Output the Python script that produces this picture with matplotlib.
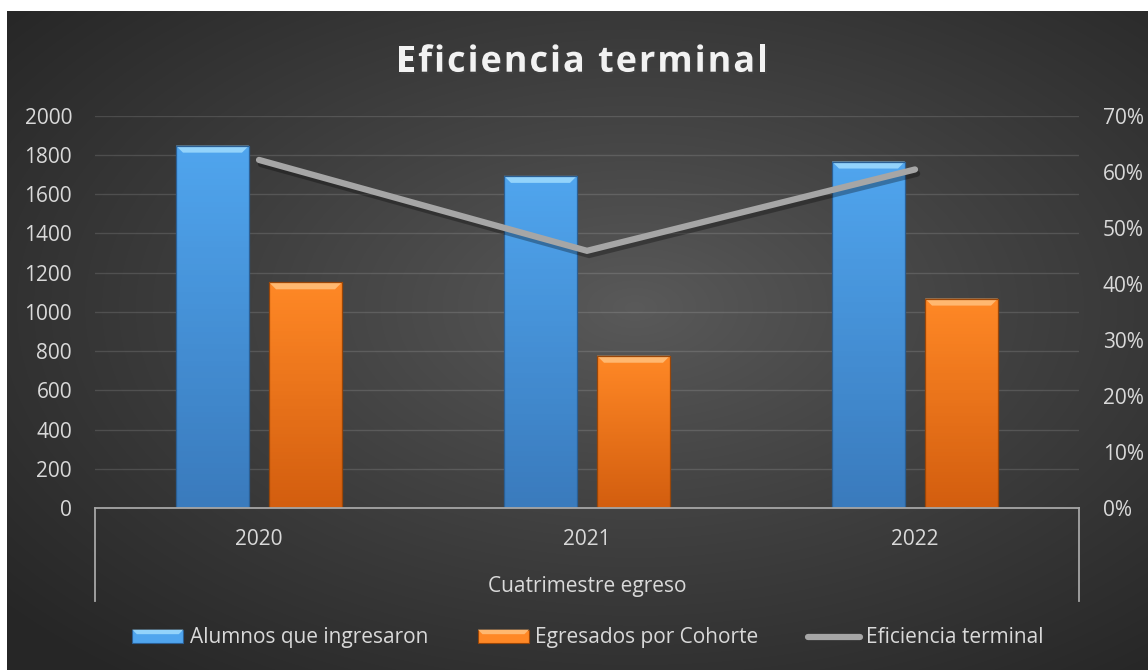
import numpy as np
import matplotlib.pyplot as plt
import matplotlib.patheffects as pe
from matplotlib.patches import Rectangle, Polygon, Patch, PathPatch
from matplotlib.lines import Line2D
from matplotlib.legend_handler import HandlerBase
from matplotlib.colors import LinearSegmentedColormap
from matplotlib.ticker import PercentFormatter
from matplotlib.textpath import TextPath
from matplotlib.transforms import IdentityTransform
from matplotlib.font_manager import FontProperties, findfont
from matplotlib.ft2font import FT2Font

plt.rcParams['font.family'] = ['Open Sans', 'DejaVu Sans']

# Data
years = ['2020', '2021', '2022']
ingresaron = [1847, 1693, 1766]
egresados = [1151, 777, 1068]
eficiencia = [0.621, 0.459, 0.604]

left_ticks = np.arange(0, 2001, 200)
right_ticks = np.arange(0, 0.701, 0.1)

title = 'Eficiencia terminal'
TXT = '#d9d9d9'
# top, bottom, bevel, edge
BLUE = ('#50a5ee', '#3a7bbd', '#93d3fb', '#2b5f94')
ORANGE = ('#ff8826', '#d35e0f', '#ffb870', '#9a4608')
LINE = '#a6a6a6'

fig = plt.figure(figsize=(11.48, 6.70), dpi=100, facecolor='white')

# dark radial background of the chart area
bg = fig.add_axes([7 / 1148, 0, 1141 / 1148, 659 / 670], zorder=-10)
h, w = 659, 1141
yy, xx = np.mgrid[0:h, 0:w]
u = (xx - 0.55 * w) / (w / 2)
v = (yy - 0.45 * h) / (h / 2)
r = np.clip(np.sqrt(u ** 2 + v ** 2) / 1.45, 0, 1)
shade = 0x5a / 255 + (0x26 / 255 - 0x5a / 255) * r ** 0.9
bg.imshow(np.dstack([shade] * 3), aspect='auto', extent=(0, 1, 0, 1))
bg.axis('off')

ax = fig.add_axes([95 / 1148, 1 - 508.3 / 670, 984 / 1148, 392.7 / 670])
ax.patch.set_alpha(0)
ax.set_xlim(-0.5, 2.5)
ax.set_ylim(0, 2000)

x = np.arange(len(years))
bw = 0.2226
off = 0.1418

# data units per pixel, for the bevel sizes
sx = 3 / 984
sy = 2000 / 392.7


def draw_bars(xpos, vals, cols):
    top, bot, hi, edge = cols
    bars = ax.bar(xpos, vals, bw, color=bot, edgecolor='none', zorder=2)
    cmap = LinearSegmentedColormap.from_list('g', [bot, top])
    grad = np.linspace(0, 1, 64).reshape(-1, 1)
    for rect in bars:
        x0, wd, hg = rect.get_x(), rect.get_width(), rect.get_height()
        im = ax.imshow(grad, extent=(x0, x0 + wd, 0, hg), origin='lower',
                       cmap=cmap, aspect='auto', zorder=2.2)
        im.set_clip_path(rect)
        d = 7
        ax.add_patch(Polygon([(x0, hg), (x0 + wd, hg),
                              (x0 + wd - d * sx, hg - d * sy),
                              (x0 + d * sx, hg - d * sy)],
                             closed=True, fc=hi, ec='none', zorder=2.4))
        ax.add_patch(Rectangle((x0, 0), wd, hg, fc='none', ec=edge,
                               lw=0.9, zorder=2.6))
    return bars


draw_bars(x - off, ingresaron, BLUE)
draw_bars(x + off, egresados, ORANGE)
ax.set_xlim(-0.5, 2.5)
ax.set_ylim(0, 2000)

ax.set_yticks(left_ticks)
ax.set_xticks(x)
ax.set_xticklabels(years)
ax.grid(axis='y', color='white', alpha=0.13, lw=1)
ax.set_axisbelow(True)
ax.tick_params(axis='y', length=0, pad=16.5, labelsize=15, labelcolor=TXT)
ax.tick_params(axis='x', length=0, pad=15, labelsize=15, labelcolor=TXT)
for s in ['top', 'left', 'right']:
    ax.spines[s].set_visible(False)
ax.spines['bottom'].set_color(LINE)
ax.spines['bottom'].set_linewidth(1.3)
ax.spines['bottom'].set_zorder(3)
for xa in [0, 1]:
    ax.plot([xa, xa], [0, -0.236], transform=ax.transAxes, clip_on=False,
            color=LINE, lw=1.3)

ax.set_xlabel('Cuatrimestre egreso', fontsize=15, color=TXT, va='center')
ax.xaxis.set_label_coords(0.5, -0.198)

ax2 = ax.twinx()
ax2.set_ylim(0, 0.7)
ax2.plot(x, eficiencia, color=LINE, lw=4.5, solid_capstyle='round',
         solid_joinstyle='miter', zorder=5,
         path_effects=[pe.SimpleLineShadow(offset=(1.5, -3), alpha=0.3),
                       pe.Normal()])
ax2.set_yticks(right_ticks)
ax2.yaxis.set_major_formatter(PercentFormatter(1.0, decimals=0))
ax2.tick_params(axis='y', length=0, pad=17, labelsize=15, labelcolor=TXT)
for s in ax2.spines.values():
    s.set_visible(False)

# title with letter spacing, built glyph by glyph (pixel coords)
tsize = 36
tspace = 2.0
tprop = FontProperties(family='Open Sans', weight='bold')
ft = FT2Font(findfont(tprop))
ft.set_size(tsize, 72)
adv = [ft.load_char(ord(c)).linearHoriAdvance / 65536 for c in title]
total = sum(adv) + tspace * (len(title) - 1)
pen = 582 - total / 2
for c, a in zip(title, adv):
    if c != ' ':
        tp = TextPath((pen, 670 - 71.7), c, size=tsize, prop=tprop)
        fig.add_artist(PathPatch(tp, transform=IdentityTransform(), fc='#f2f2f2',
                                 ec='none', path_effects=[
                                     pe.withSimplePatchShadow(offset=(1, -1.5), alpha=0.45)]))
    pen += a + tspace


class BevelHandler(HandlerBase):
    def __init__(self, cols):
        super().__init__()
        self.cols = cols

    def create_artists(self, legend, orig, xd, yd, width, height, fontsize, trans):
        top, bot, hi, edge = self.cols
        x0, y0 = -xd, -yd
        rect = Rectangle((x0, y0), width, height, fc=top, ec=edge, lw=0.8,
                         transform=trans)
        d = height * 0.35
        bev = Polygon([(x0, y0 + height), (x0 + width, y0 + height),
                       (x0 + width - d, y0 + height - d), (x0 + d, y0 + height - d)],
                      closed=True, fc=hi, ec='none', transform=trans)
        return [rect, bev]


h1 = Patch()
h2 = Patch()
h3 = Line2D([], [], color=LINE, lw=4.5, solid_capstyle='round')
fig.legend([h1, h2, h3],
           ['Alumnos que ingresaron', 'Egresados por Cohorte', 'Eficiencia terminal'],
           handler_map={h1: BevelHandler(BLUE), h2: BevelHandler(ORANGE)},
           ncol=3, loc='center', bbox_to_anchor=(0.512, 0.0478), frameon=False,
           fontsize=15, labelcolor=TXT, handlelength=2.45, handleheight=0.58,
           handletextpad=0.3, columnspacing=2.4)

fig.savefig('out.png', dpi=100, facecolor='white')
